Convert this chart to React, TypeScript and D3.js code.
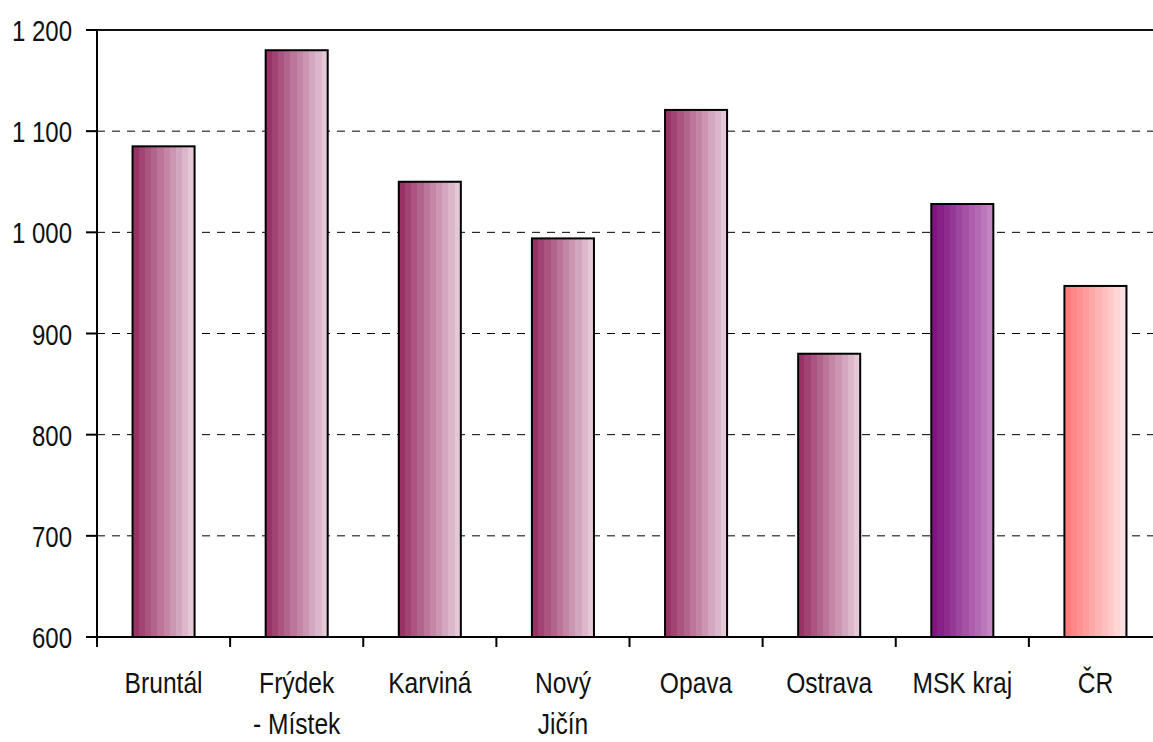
import { useEffect, useRef } from "react";
import * as d3 from "d3";

const categories = ["Bruntál", "Frýdek\n- Místek", "Karviná", "Nový\nJičín", "Opava", "Ostrava", "MSK kraj", "ČR"];
const values = [1085, 1180, 1050, 994, 1121, 880, 1028, 947];
const barKinds = ["okres", "okres", "okres", "okres", "okres", "okres", "kraj", "cr"];
const yTicks = [600, 700, 800, 900, 1000, 1100, 1200];

const gradients: Record<string, [string, string]> = {
  okres: ["#993366", "#e4c8d8"],
  kraj: ["#801480", "#c284c2"],
  cr: ["#ff7c7c", "#ffe0e0"],
};

export default function App() {
  const svgRef = useRef<SVGSVGElement>(null);

  useEffect(() => {
    if (!svgRef.current) return;
    const W = 1153, H = 742;
    const margin = { top: 30, left: 97, bottom: 105 };
    const plotRight = 1162;
    const height = H - margin.top - margin.bottom;

    const svg = d3.select(svgRef.current);
    svg.selectAll("*").remove();
    const font = "'Liberation Sans', Arial, sans-serif";

    // stepped gradients like the original office chart
    const defs = svg.append("defs");
    Object.entries(gradients).forEach(([key, [c0, c1]]) => {
      const grad = defs.append("linearGradient").attr("id", "g-" + key)
        .attr("x1", 0).attr("x2", 1).attr("y1", 0).attr("y2", 0);
      const steps = 10;
      const interp = d3.interpolateRgb(c0, c1);
      for (let i = 0; i < steps; i++) {
        const col = interp(i / (steps - 1));
        grad.append("stop").attr("offset", i / steps).attr("stop-color", col);
        grad.append("stop").attr("offset", (i + 1) / steps).attr("stop-color", col);
      }
    });

    const x = d3.scaleBand<number>()
      .domain(categories.map((_, i) => i))
      .range([margin.left, plotRight]);
    const y = d3.scaleLinear().domain([600, 1200]).range([margin.top + height, margin.top]);

    // gridlines
    svg.append("g").selectAll("line")
      .data(yTicks.filter(t => t > 600 && t < 1200))
      .enter().append("line")
      .attr("x1", margin.left).attr("x2", plotRight)
      .attr("y1", d => y(d)).attr("y2", d => y(d))
      .attr("stroke", "#000").attr("stroke-width", 1)
      .attr("stroke-dasharray", "8,7");
    svg.append("line")
      .attr("x1", margin.left).attr("x2", plotRight)
      .attr("y1", y(1200)).attr("y2", y(1200))
      .attr("stroke", "#111").attr("stroke-width", 2);

    // bars
    const bw = x.bandwidth() * 0.466;
    svg.append("g").selectAll("rect")
      .data(values)
      .enter().append("rect")
      .attr("x", (_, i) => (x(i) as number) + (x.bandwidth() - bw) / 2)
      .attr("y", d => y(d))
      .attr("width", bw)
      .attr("height", d => y(600) - y(d))
      .attr("fill", (_, i) => `url(#g-${barKinds[i]})`)
      .attr("stroke", "#000").attr("stroke-width", 2);

    // y axis ticks + labels
    svg.append("g").selectAll("line")
      .data(yTicks)
      .enter().append("line")
      .attr("x1", margin.left - 11).attr("x2", margin.left)
      .attr("y1", d => y(d)).attr("y2", d => y(d))
      .attr("stroke", "#000").attr("stroke-width", 2);
    const fmt = (d: number) => d3.format(",")(d).replace(",", " ");
    svg.append("g").selectAll("text")
      .data(yTicks)
      .enter().append("text")
      .attr("transform", d => `translate(72,${y(d) + 11}) scale(0.8,1)`)
      .attr("text-anchor", "end")
      .attr("font-size", 30)
      .attr("font-family", font)
      .attr("fill", "#111")
      .text(d => fmt(d));
    svg.append("line")
      .attr("x1", margin.left).attr("x2", margin.left)
      .attr("y1", margin.top - 1).attr("y2", y(600) + 1)
      .attr("stroke", "#000").attr("stroke-width", 2);

    // x axis
    svg.append("line")
      .attr("x1", margin.left - 11).attr("x2", plotRight)
      .attr("y1", y(600)).attr("y2", y(600))
      .attr("stroke", "#000").attr("stroke-width", 2);
    svg.append("g").selectAll("line")
      .data(categories.map((_, i) => i))
      .enter().append("line")
      .attr("x1", d => x(d) as number).attr("x2", d => x(d) as number)
      .attr("y1", y(600)).attr("y2", y(600) + 10)
      .attr("stroke", "#000").attr("stroke-width", 2);

    const labels = svg.append("g").selectAll("text")
      .data(categories)
      .enter().append("text")
      .attr("transform", (_, i) => `translate(${(x(i) as number) + x.bandwidth() / 2},693) scale(0.82,1)`)
      .attr("text-anchor", "middle")
      .attr("font-size", 30)
      .attr("font-family", font)
      .attr("fill", "#111");
    labels.each(function (d) {
      const t = d3.select(this);
      d.split("\n").forEach((line, k) => {
        t.append("tspan").attr("x", 0).attr("dy", k === 0 ? 0 : 41).text(line);
      });
    });

    svg.attr("width", W).attr("height", H);
  }, []);

  return (
    <svg ref={svgRef} width={1153} height={742}
      style={{ position: "absolute", left: 0, top: 0, background: "#fff" }} />
  );
}
